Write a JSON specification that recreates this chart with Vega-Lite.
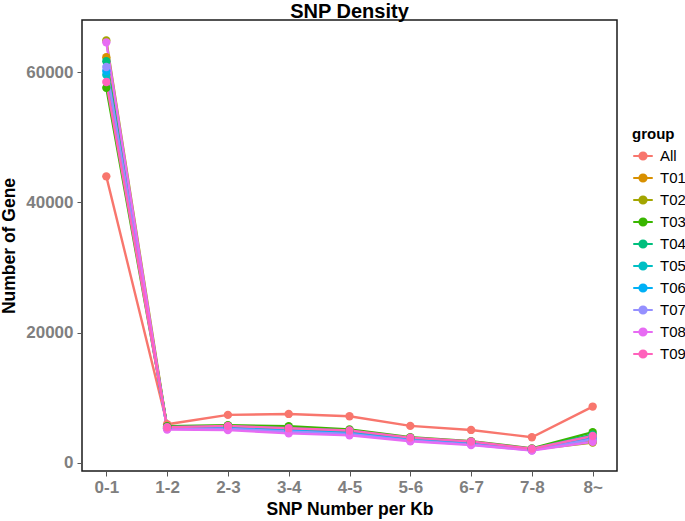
{
  "$schema": "https://vega.github.io/schema/vega-lite/v6.json",
  "autosize": {"type": "none"},
  "padding": {"left": 82, "top": 20, "right": 68, "bottom": 50},
  "width": 535,
  "height": 451,
  "background": "white",
  "title": {"text": "SNP Density", "fontSize": 20, "fontWeight": "bold", "font": "Liberation Sans", "color": "#000", "anchor": "middle", "offset": 3, "dy": 5},
  "config": {
    "view": {"stroke": "#1a1a1a", "strokeWidth": 1.5},
    "font": "Liberation Sans",
    "axis": {"grid": false, "domain": false, "tickColor": "#555", "tickSize": 5, "tickWidth": 1,
      "labelFont": "Liberation Sans", "labelFontSize": 17, "labelFontWeight": "bold", "labelColor": "#7f7f7f",
      "titleFont": "Liberation Sans", "titleFontSize": 17.5, "titleFontWeight": "bold", "titleColor": "#000"}
  },
  "data": {"values": [
    {"bin": "0-1", "group": "All", "n": 44000}, {"bin": "1-2", "group": "All", "n": 5900}, {"bin": "2-3", "group": "All", "n": 7340}, {"bin": "3-4", "group": "All", "n": 7490}, {"bin": "4-5", "group": "All", "n": 7140}, {"bin": "5-6", "group": "All", "n": 5650}, {"bin": "6-7", "group": "All", "n": 5030}, {"bin": "7-8", "group": "All", "n": 3900}, {"bin": "8~", "group": "All", "n": 8620},
    {"bin": "0-1", "group": "T01", "n": 62300}, {"bin": "1-2", "group": "T01", "n": 5500}, {"bin": "2-3", "group": "T01", "n": 5600}, {"bin": "3-4", "group": "T01", "n": 5200}, {"bin": "4-5", "group": "T01", "n": 4800}, {"bin": "5-6", "group": "T01", "n": 3700}, {"bin": "6-7", "group": "T01", "n": 3100}, {"bin": "7-8", "group": "T01", "n": 2100}, {"bin": "8~", "group": "T01", "n": 3300},
    {"bin": "0-1", "group": "T02", "n": 64880}, {"bin": "1-2", "group": "T02", "n": 5400}, {"bin": "2-3", "group": "T02", "n": 5500}, {"bin": "3-4", "group": "T02", "n": 5100}, {"bin": "4-5", "group": "T02", "n": 4700}, {"bin": "5-6", "group": "T02", "n": 3600}, {"bin": "6-7", "group": "T02", "n": 3000}, {"bin": "7-8", "group": "T02", "n": 2000}, {"bin": "8~", "group": "T02", "n": 3100},
    {"bin": "0-1", "group": "T03", "n": 57600}, {"bin": "1-2", "group": "T03", "n": 5600}, {"bin": "2-3", "group": "T03", "n": 5750}, {"bin": "3-4", "group": "T03", "n": 5600}, {"bin": "4-5", "group": "T03", "n": 5100}, {"bin": "5-6", "group": "T03", "n": 3900}, {"bin": "6-7", "group": "T03", "n": 3300}, {"bin": "7-8", "group": "T03", "n": 2200}, {"bin": "8~", "group": "T03", "n": 4700},
    {"bin": "0-1", "group": "T04", "n": 61700}, {"bin": "1-2", "group": "T04", "n": 5500}, {"bin": "2-3", "group": "T04", "n": 5600}, {"bin": "3-4", "group": "T04", "n": 5300}, {"bin": "4-5", "group": "T04", "n": 4900}, {"bin": "5-6", "group": "T04", "n": 3800}, {"bin": "6-7", "group": "T04", "n": 3200}, {"bin": "7-8", "group": "T04", "n": 2100}, {"bin": "8~", "group": "T04", "n": 4300},
    {"bin": "0-1", "group": "T05", "n": 59600}, {"bin": "1-2", "group": "T05", "n": 5300}, {"bin": "2-3", "group": "T05", "n": 5400}, {"bin": "3-4", "group": "T05", "n": 5000}, {"bin": "4-5", "group": "T05", "n": 4600}, {"bin": "5-6", "group": "T05", "n": 3600}, {"bin": "6-7", "group": "T05", "n": 3000}, {"bin": "7-8", "group": "T05", "n": 2000}, {"bin": "8~", "group": "T05", "n": 3900},
    {"bin": "0-1", "group": "T06", "n": 60200}, {"bin": "1-2", "group": "T06", "n": 5300}, {"bin": "2-3", "group": "T06", "n": 5300}, {"bin": "3-4", "group": "T06", "n": 4900}, {"bin": "4-5", "group": "T06", "n": 4500}, {"bin": "5-6", "group": "T06", "n": 3500}, {"bin": "6-7", "group": "T06", "n": 2900}, {"bin": "7-8", "group": "T06", "n": 1950}, {"bin": "8~", "group": "T06", "n": 3700},
    {"bin": "0-1", "group": "T07", "n": 60800}, {"bin": "1-2", "group": "T07", "n": 5200}, {"bin": "2-3", "group": "T07", "n": 5200}, {"bin": "3-4", "group": "T07", "n": 4800}, {"bin": "4-5", "group": "T07", "n": 4400}, {"bin": "5-6", "group": "T07", "n": 3400}, {"bin": "6-7", "group": "T07", "n": 2800}, {"bin": "7-8", "group": "T07", "n": 1900}, {"bin": "8~", "group": "T07", "n": 3600},
    {"bin": "0-1", "group": "T08", "n": 64600}, {"bin": "1-2", "group": "T08", "n": 5100}, {"bin": "2-3", "group": "T08", "n": 5000}, {"bin": "3-4", "group": "T08", "n": 4500}, {"bin": "4-5", "group": "T08", "n": 4200}, {"bin": "5-6", "group": "T08", "n": 3300}, {"bin": "6-7", "group": "T08", "n": 2700}, {"bin": "7-8", "group": "T08", "n": 1870}, {"bin": "8~", "group": "T08", "n": 3200},
    {"bin": "0-1", "group": "T09", "n": 58500}, {"bin": "1-2", "group": "T09", "n": 5450}, {"bin": "2-3", "group": "T09", "n": 5650}, {"bin": "3-4", "group": "T09", "n": 5300}, {"bin": "4-5", "group": "T09", "n": 4950}, {"bin": "5-6", "group": "T09", "n": 3850}, {"bin": "6-7", "group": "T09", "n": 3250}, {"bin": "7-8", "group": "T09", "n": 2150}, {"bin": "8~", "group": "T09", "n": 4100}
  ]},
  "encoding": {
    "x": {"field": "bin", "type": "ordinal", "title": "SNP Number per Kb",
      "sort": ["0-1", "1-2", "2-3", "3-4", "4-5", "5-6", "6-7", "7-8", "8~"],
      "scale": {"type": "point", "padding": 0.4},
      "axis": {"labelAngle": 0, "labelPadding": 3, "titlePadding": 5}},
    "y": {"field": "n", "type": "quantitative", "title": "Number of Gene",
      "scale": {"domain": [-1280, 68030], "nice": false, "zero": false},
      "axis": {"values": [0, 20000, 40000, 60000], "format": "d", "labelPadding": 4, "titlePadding": 7}},
    "color": {"field": "group", "type": "nominal", "title": "group",
      "scale": {"domain": ["All", "T01", "T02", "T03", "T04", "T05", "T06", "T07", "T08", "T09"],
        "range": ["#F8766D", "#D89000", "#A3A500", "#39B600", "#00BF7D", "#00BFC4", "#00B0F6", "#9590FF", "#E76BF3", "#FF62BC"]},
      "legend": {"orient": "none", "legendX": 550, "legendY": 107,
        "titleFontSize": 15, "titleFontWeight": "bold", "titleColor": "#000", "titlePadding": 3,
        "labelFontSize": 15, "labelColor": "#000", "labelOffset": 6,
        "symbolType": "M-1,0L1,0M-0.36,0A0.36,0.36 0 1,1 0.36,0A0.36,0.36 0 1,1 -0.36,0Z",
        "symbolSize": 380, "symbolStrokeWidth": 2.2, "rowPadding": 3,
        "encode": {"symbols": {"update": {"fill": {"scale": "color", "field": "value"}, "stroke": {"scale": "color", "field": "value"}, "opacity": {"value": 1}}}}}}
  },
  "layer": [
    {"mark": {"type": "line", "strokeWidth": 2.4}},
    {"mark": {"type": "circle", "size": 70, "opacity": 1}}
  ]
}
